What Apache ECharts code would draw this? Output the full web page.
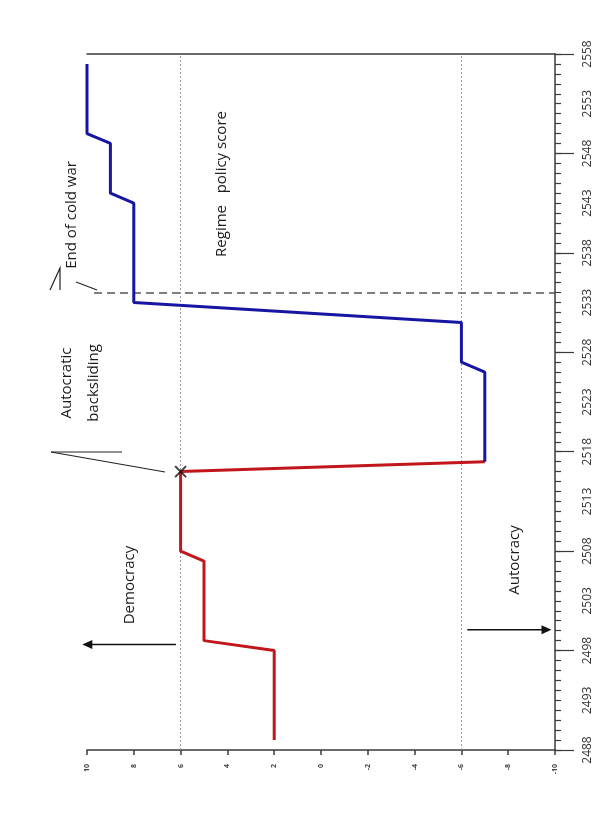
<!DOCTYPE html>
<html>
<head>
<meta charset="utf-8">
<script src="https://cdn.jsdelivr.net/npm/echarts@6/dist/echarts.min.js"></script>
<style>
html,body{margin:0;padding:0;background:#fff;}
#chart{width:611px;height:818px;}
</style>
</head>
<body>
<div id="chart"></div>
<script>
// ---- data ----
const redYears   = [2489, 2498, 2499, 2507, 2508, 2516, 2517];
const redScores  = [2, 2, 5, 5, 6, 6, -7];
const blueYears  = [2517, 2526, 2527, 2531, 2533, 2543, 2544, 2549, 2550, 2557];
const blueScores = [-7, -7, -6, -6, 8, 8, 9, 9, 10, 10];
const backslideYear = 2516, backslideScore = 6;
const coldWarYear = 2534;
const thresholds = [6, -6];
const yearLabels = [2488, 2493, 2498, 2503, 2508, 2513, 2518, 2523, 2528, 2533, 2538, 2543, 2548, 2553, 2558];
const yearMajorTicks = [2488, 2498, 2508, 2518, 2528, 2538, 2548, 2558];
const yearMin = 2488, yearMax = 2558;
const scoreMin = -10, scoreMax = 10, scoreStep = 2;

const yearMinorTicks = [];
for (let y = yearMin; y <= yearMax; y++) yearMinorTicks.push(y);

const zip = (s, y) => s.map((v, i) => [v, y[i]]);

const chart = echarts.init(document.getElementById('chart'), null, {renderer: 'canvas'});
const FONT = '"Open Sans", "DejaVu Sans", sans-serif';
const axisColor = '#3a3a3a';

const option = {
  backgroundColor: '#ffffff',
  animation: false,
  grid: {left: 87, right: 56, top: 54, bottom: 68},
  xAxis: [
    {
      type: 'value', min: scoreMin, max: scoreMax, interval: scoreStep, inverse: true, position: 'bottom',
      axisLine: {show: true, onZero: false, lineStyle: {color: axisColor, width: 1.5}},
      axisTick: {show: true, length: 5, lineStyle: {color: axisColor, width: 1.5}},
      axisLabel: {rotate: 90, fontSize: 7, margin: 14, color: '#444', fontFamily: FONT, fontWeight: 'bold'},
      splitLine: {show: false}
    },
    {
      type: 'value', min: scoreMin, max: scoreMax, inverse: true, position: 'top',
      axisLine: {show: true, onZero: false, lineStyle: {color: axisColor, width: 1.5}},
      axisTick: {show: false}, axisLabel: {show: false}, splitLine: {show: false}
    }
  ],
  yAxis: [
    {
      type: 'value', min: yearMin, max: yearMax, position: 'right',
      axisLine: {show: true, onZero: false, lineStyle: {color: axisColor, width: 1.5}},
      axisTick: {show: true, customValues: yearMinorTicks, length: 6, lineStyle: {color: axisColor, width: 1.2}},
      axisLabel: {customValues: yearLabels, rotate: 90, margin: 27, fontSize: 12, color: '#333', fontFamily: FONT,
                  formatter: v => String(v)},
      splitLine: {show: false}
    },
    {
      type: 'value', min: yearMin, max: yearMax, position: 'right',
      axisLine: {show: false, onZero: false},
      axisTick: {show: true, customValues: yearMajorTicks, length: 19, lineStyle: {color: axisColor, width: 1.2}},
      axisLabel: {show: false},
      splitLine: {show: false}
    }
  ],
  series: [
    {
      name: 'guides', type: 'line', data: [], silent: true, clip: false,
      markLine: {
        silent: true, symbol: ['none', 'none'], label: {show: false}, animation: false,
        data: [
          ...thresholds.map(t => [{coord: [t, yearMin], lineStyle: {color: '#9a9a9a', type: [2, 2], width: 1}},
                                  {coord: [t, yearMax]}]),
          [{coord: [9.7, coldWarYear], lineStyle: {color: '#555', type: [8, 5], width: 1.5}},
           {coord: [scoreMin, coldWarYear]}]
        ]
      }
    },
    {
      name: 'Democratic period', type: 'line', data: zip(redScores, redYears),
      showSymbol: false, symbol: 'none',
      lineStyle: {color: '#c0161c', width: 3}, z: 5
    },
    {
      name: 'Autocratic period', type: 'line', data: zip(blueScores, blueYears),
      showSymbol: false, symbol: 'none',
      lineStyle: {color: '#1616a3', width: 3}, z: 5
    },
    {
      name: 'backsliding', type: 'scatter', data: [[backslideScore, backslideYear]],
      symbol: 'path://M0,0L10,10M10,0L0,10', symbolSize: 11,
      itemStyle: {color: 'none', borderColor: '#111', borderWidth: 2}, z: 10
    }
  ],
  graphic: [
    {type: 'text', x: 72, y: 215, rotation: Math.PI / 2,
     style: {text: 'End of cold war', fontSize: 15, fontFamily: FONT, fill: '#1a1a1a', align: 'center', verticalAlign: 'middle'}},
    {type: 'text', x: 222, y: 184, rotation: Math.PI / 2,
     style: {text: 'Regime   policy score', fontSize: 15, fontFamily: FONT, fill: '#1a1a1a', align: 'center', verticalAlign: 'middle'}},
    {type: 'text', x: 80, y: 383, rotation: Math.PI / 2,
     style: {text: 'Autocratic\nbacksliding', fontSize: 15, lineHeight: 27, fontFamily: FONT, fill: '#1a1a1a', align: 'center', verticalAlign: 'middle'}},
    {type: 'text', x: 130, y: 585, rotation: Math.PI / 2,
     style: {text: 'Democracy', fontSize: 15, fontFamily: FONT, fill: '#1a1a1a', align: 'center', verticalAlign: 'middle'}},
    {type: 'text', x: 515, y: 560, rotation: Math.PI / 2,
     style: {text: 'Autocracy', fontSize: 15, fontFamily: FONT, fill: '#1a1a1a', align: 'center', verticalAlign: 'middle'}},
    // callout for cold war
    {type: 'polyline', shape: {points: [[50, 290], [60, 268], [60, 290]]}, style: {stroke: '#222', lineWidth: 1.2, fill: null}},
    {type: 'line', shape: {x1: 76, y1: 282, x2: 97, y2: 290}, style: {stroke: '#222', lineWidth: 1.2}},
    // callout for backsliding
    {type: 'line', shape: {x1: 51, y1: 452, x2: 122, y2: 452}, style: {stroke: '#222', lineWidth: 1.2}},
    {type: 'line', shape: {x1: 51, y1: 452, x2: 165, y2: 472}, style: {stroke: '#222', lineWidth: 1.2}}
  ]
};
chart.setOption(option);

// direction arrows, positioned through the axes' scales
const arrowDefs = [
  {from: [6.2, 2498.6], to: [10.2, 2498.6]},
  {from: [-6.25, 2500.1], to: [-9.85, 2500.1]}
];
const arrowGraphics = [];
arrowDefs.forEach(a => {
  const p0 = chart.convertToPixel({gridIndex: 0}, a.from);
  const p1 = chart.convertToPixel({gridIndex: 0}, a.to);
  const dir = Math.sign(p1[0] - p0[0]);
  const head = 10, half = 4.5;
  arrowGraphics.push({type: 'line', shape: {x1: p0[0], y1: p0[1], x2: p1[0] - dir * head * 0.8, y2: p1[1]},
                      style: {stroke: '#111', lineWidth: 1.5}});
  arrowGraphics.push({type: 'polygon',
                      shape: {points: [[p1[0], p1[1]], [p1[0] - dir * head, p1[1] - half], [p1[0] - dir * head, p1[1] + half]]},
                      style: {fill: '#111'}});
});
chart.setOption({graphic: option.graphic.concat(arrowGraphics)});
</script>
</body>
</html>
